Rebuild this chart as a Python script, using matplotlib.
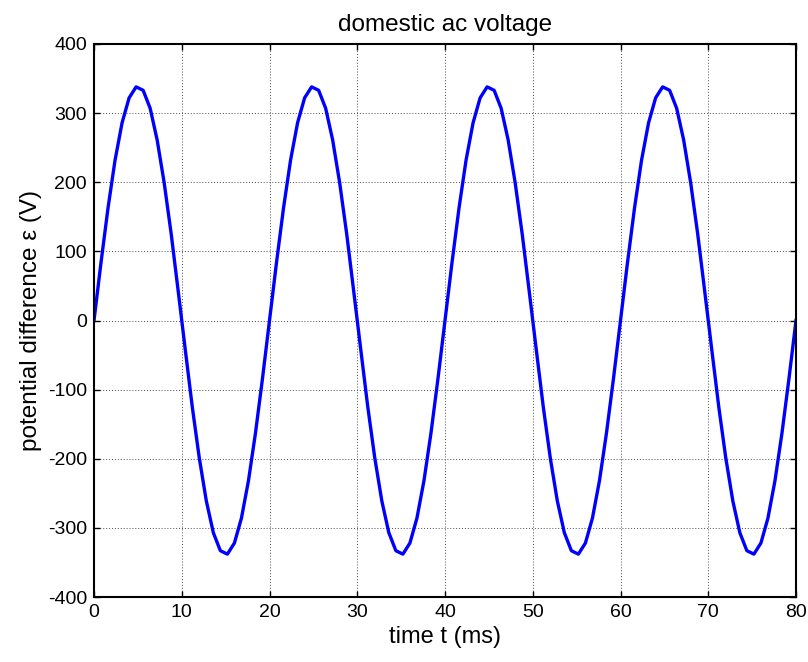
import matplotlib
matplotlib.use("Agg")
import matplotlib.pyplot as plt

plt.rcParams['font.family'] = ['Liberation Sans', 'DejaVu Sans']
plt.rcParams['axes.unicode_minus'] = False

# time samples (ms)
time_ms = [0.0, 0.8, 1.6, 2.4, 3.2, 4.0, 4.8, 5.6, 6.4, 7.2, 8.0, 8.8, 9.6,
           10.4, 11.2, 12.0, 12.8, 13.6, 14.4, 15.2, 16.0, 16.8, 17.6, 18.4, 19.2,
           20.0, 20.8, 21.6, 22.4, 23.2, 24.0, 24.8, 25.6, 26.4, 27.2, 28.0, 28.8,
           29.6, 30.4, 31.2, 32.0, 32.8, 33.6, 34.4, 35.2, 36.0, 36.8, 37.6, 38.4,
           39.2, 40.0, 40.8, 41.6, 42.4, 43.2, 44.0, 44.8, 45.6, 46.4, 47.2, 48.0,
           48.8, 49.6, 50.4, 51.2, 52.0, 52.8, 53.6, 54.4, 55.2, 56.0, 56.8, 57.6,
           58.4, 59.2, 60.0, 60.8, 61.6, 62.4, 63.2, 64.0, 64.8, 65.6, 66.4, 67.2,
           68.0, 68.8, 69.6, 70.4, 71.2, 72.0, 72.8, 73.6, 74.4, 75.2, 76.0, 76.8,
           77.6, 78.4, 79.2, 80.0]

# potential difference (V)
voltage_v = [0, 84, 163, 232, 286, 322, 338, 333, 307, 261, 199, 125, 42,
             -42, -125, -199, -261, -307, -333, -338, -322, -286, -232, -163, -84,
             0, 84, 163, 232, 286, 322, 338, 333, 307, 261, 199, 125, 42,
             -42, -125, -199, -261, -307, -333, -338, -322, -286, -232, -163, -84,
             0, 84, 163, 232, 286, 322, 338, 333, 307, 261, 199, 125, 42,
             -42, -125, -199, -261, -307, -333, -338, -322, -286, -232, -163, -84,
             0, 84, 163, 232, 286, 322, 338, 333, 307, 261, 199, 125, 42,
             -42, -125, -199, -261, -307, -333, -338, -322, -286, -232, -163, -84,
             0]

x_ticks = [0, 10, 20, 30, 40, 50, 60, 70, 80]
y_ticks = [-400, -300, -200, -100, 0, 100, 200, 300, 400]

fig = plt.figure(figsize=(8.08, 6.62), dpi=100)
ax = fig.add_axes([94 / 808, 65 / 662, 702 / 808, 553 / 662])

ax.plot(time_ms, voltage_v, color=(0, 0, 1), linewidth=2.4)

ax.set_xlim(0, 80)
ax.set_ylim(-400, 400)
ax.set_xticks(x_ticks)
ax.set_yticks(y_ticks)

# matlab-ish look: dotted grid, inward ticks on every side
ax.grid(True, color='0.3', linestyle=(0, (1, 2)), linewidth=0.7)
ax.tick_params(direction='in', length=4, width=1, top=True, right=True,
               labelsize=14, pad=5)
for sp in ax.spines.values():
    sp.set_linewidth(1.5)

ax.set_title('domestic ac voltage', fontsize=17.5, pad=9)
ax.set_xlabel('time t (ms)', fontsize=17, labelpad=4)
ax.set_ylabel('potential difference \u03b5 (V)', fontsize=17.5, labelpad=4)

fig.savefig('out.png', dpi=100)
